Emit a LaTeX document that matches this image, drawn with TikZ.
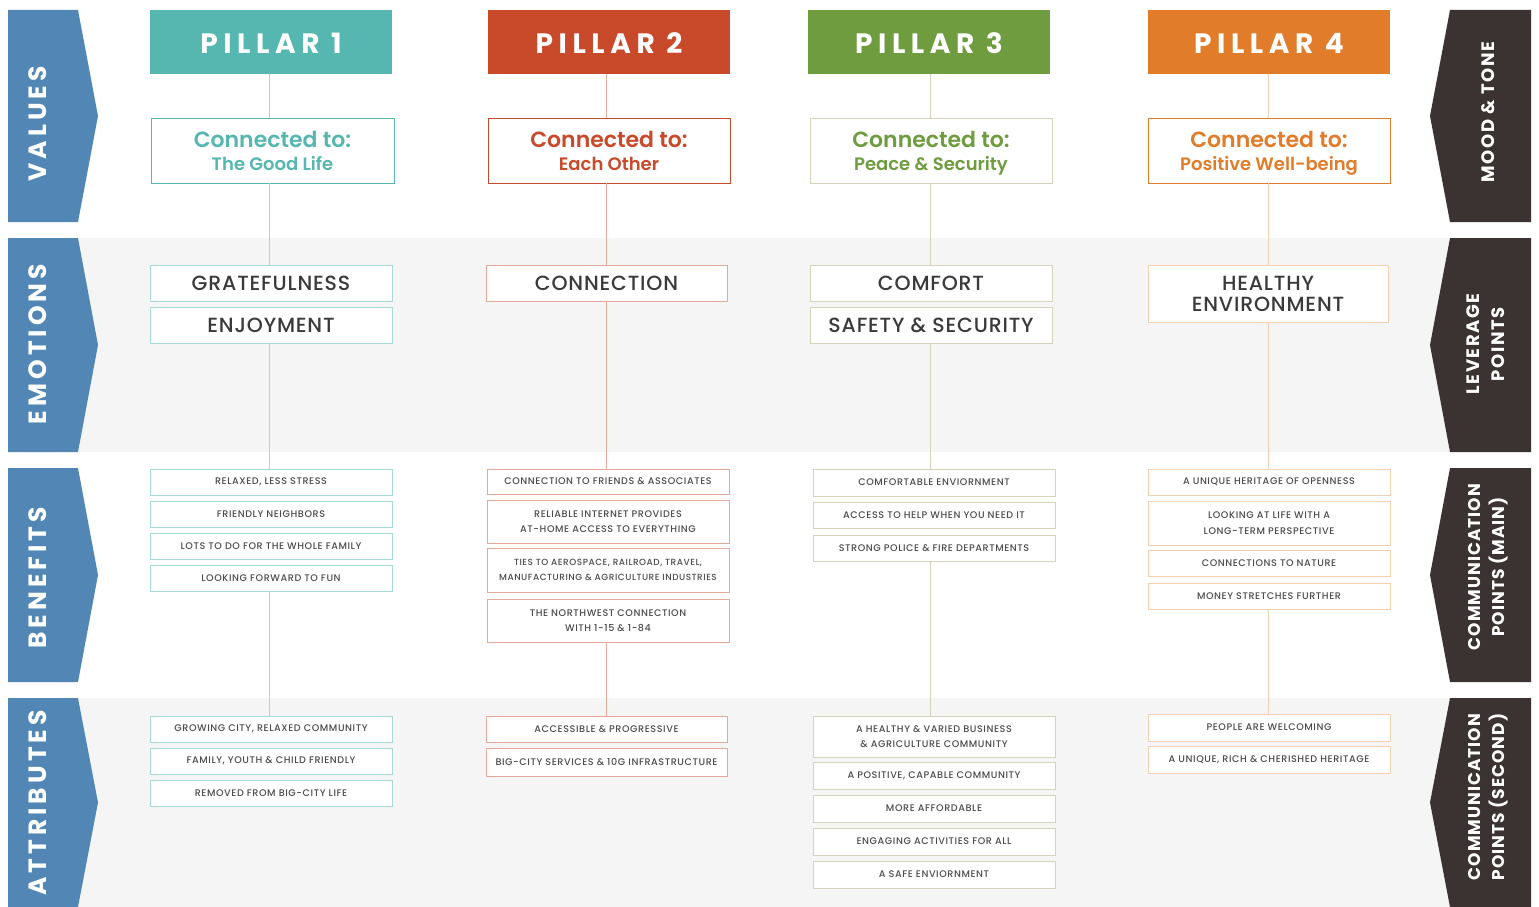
\documentclass[tikz,border=0pt]{standalone}
\usepackage{fontspec}
\setmainfont{Poppins}
\newfontfamily\hdrfont[LetterSpace=20]{Poppins}
\newfontfamily\sidefont[LetterSpace=16]{Poppins}
\newfontfamily\rsidefont[LetterSpace=9]{Poppins}
\newfontfamily\rsidefontb[LetterSpace=6]{Poppins}
\newfontfamily\smallfont[LetterSpace=6]{Poppins Medium}
\newfontfamily\medfont{Poppins Medium}
\newfontfamily\emofont[LetterSpace=4]{Poppins Medium}
\newfontfamily\semifont{Poppins SemiBold}
\definecolor{pA}{HTML}{55B7AF}
\definecolor{pAl}{HTML}{A8DAD5}
\definecolor{pB}{HTML}{C84A2B}
\definecolor{pBl}{HTML}{E3A99B}
\definecolor{pC}{HTML}{6E9C3F}
\definecolor{pCl}{HTML}{D6D3BC}
\definecolor{pD}{HTML}{E17C2A}
\definecolor{pDl}{HTML}{F2D0B0}
\definecolor{sideL}{HTML}{5287B5}
\definecolor{sideR}{HTML}{3A3331}
\definecolor{band}{HTML}{F5F5F6}
\definecolor{txt}{HTML}{3A3A3A}
\definecolor{stxt}{HTML}{4C4C4C}
\newcommand\mybox[7]{\node[#6, minimum width={(#4-#2)*1pt}, minimum height={(#5-#3)*1pt}] (#1) at ({(#2+#4)/2},{(#3+#5)/2}) {#7};}
\tikzset{
  base/.style={inner sep=0pt, outer sep=0pt, align=center},
  hdr/.style={base, fill=#1, text=white, font=\hdrfont\bfseries\fontsize{28}{28}\selectfont},
  conn/.style={base, fill=white, draw=#1, line width=1pt, font=\semifont\fontsize{18}{23}\selectfont},
  emo/.style={base, fill=white, draw=#1, line width=0.8pt, text=txt, font=\emofont\fontsize{20.5}{21}\selectfont},
  sm/.style={base, fill=white, draw=#1, line width=0.7pt, text=stxt, font=\smallfont\fontsize{9.6}{15.5}\selectfont},
  link/.style={draw=#1, line width=0.8pt},
  lside/.style={text=white, rotate=90, font=\sidefont\bfseries\fontsize{25}{25}\selectfont},
  rside/.style={text=white, rotate=90, align=center, font=\rsidefont\bfseries\fontsize{18}{25}\selectfont},
  rsideb/.style={text=white, rotate=90, align=center, font=\rsidefontb\bfseries\fontsize{17}{24}\selectfont},
}
\newcommand\ctd[1]{{\fontsize{22}{23}\selectfont\rule{0pt}{22pt}Connected to:}\\{\fontsize{18}{20}\selectfont #1\vphantom{Tgy}}}
\newcommand\hdrtxt[1]{\rule{0pt}{24pt}#1}
\begin{document}
\begin{tikzpicture}[x=1pt,y=-1pt]
\useasboundingbox (0,0) rectangle (1539,907);
\fill[white] (0,0) rectangle (1539,907);
% bands
\fill[band] (8,238) rectangle (1531,452);
\fill[band] (8,698) rectangle (1531,907);
% left chevrons
\foreach \a/\b in {10/222,238/452,468/682,698/907}{
  \fill[sideL] (8,\a) -- (78,\a) -- (98,{(\a+\b)/2}) -- (78,\b) -- (8,\b) -- cycle;
}
\node[lside] (lv) at (38,124) {VALUES};
\node[lside] (le) at (38,344) {EMOTIONS};
\node[lside] (lb) at (38,578) {BENEFITS};
\node[lside] (la) at (38,803) {ATTRIBUTES};
% right chevrons
\foreach \a/\b in {10/222,238/452,468/682,698/907}{
  \fill[sideR] (1531,\a) -- (1450,\a) -- (1430,{(\a+\b)/2}) -- (1450,\b) -- (1531,\b) -- cycle;
}
\node[rside] (rm) at (1488,112) {MOOD \& TONE};
\node[rside] (rl) at (1486,344) {LEVERAGE\\POINTS};
\node[rsideb] (rc) at (1488,567) {COMMUNICATION\\POINTS (MAIN)};
\node[rsideb] (rs) at (1488,797) {COMMUNICATION\\POINTS (SECOND)};
% line x positions
\coordinate (x1) at (269,0);
\coordinate (x2) at (606,0);
\coordinate (x3) at (930,0);
\coordinate (x4) at (1268,0);
% ---------- Pillar 1
\mybox{h1}{150}{10}{392}{74}{hdr=pA}{\hdrtxt{PILLAR 1}}
\mybox{c1}{151}{118}{394}{183}{conn=pA, text=pA}{\ctd{The Good Life}}
\mybox{e1a}{150}{265}{392}{301}{emo=pAl}{GRATEFULNESS}
\mybox{e1b}{150}{307}{392}{343}{emo=pAl}{ENJOYMENT}
\mybox{b1a}{150}{469}{392}{495}{sm=pAl}{RELAXED, LESS STRESS}
\mybox{b1b}{150}{501}{392}{527}{sm=pAl}{FRIENDLY NEIGHBORS}
\mybox{b1c}{150}{533}{392}{559}{sm=pAl}{LOTS TO DO FOR THE WHOLE FAMILY}
\mybox{b1d}{150}{565}{392}{591}{sm=pAl}{LOOKING FORWARD TO FUN}
\mybox{a1a}{150}{716}{392}{742}{sm=pAl}{GROWING CITY, RELAXED COMMUNITY}
\mybox{a1b}{150}{748}{392}{774}{sm=pAl}{FAMILY, YOUTH \& CHILD FRIENDLY}
\mybox{a1c}{150}{780}{392}{806}{sm=pAl}{REMOVED FROM BIG-CITY LIFE}
\draw[link=pAl] (h1.south -| x1) -- (c1.north -| x1);
\draw[link=pAl] (c1.south -| x1) -- (e1a.north -| x1);
\draw[link=pAl] (e1b.south -| x1) -- (b1a.north -| x1);
\draw[link=pAl] (b1d.south -| x1) -- (a1a.north -| x1);
% ---------- Pillar 2
\mybox{h2}{488}{10}{730}{74}{hdr=pB}{\hdrtxt{PILLAR 2}}
\mybox{c2}{488}{118}{730}{183}{conn=pB, text=pB}{\ctd{Each Other}}
\mybox{e2a}{486}{265}{727}{301}{emo=pBl}{CONNECTION}
\mybox{b2a}{487}{469}{729}{494}{sm=pBl}{CONNECTION TO FRIENDS \& ASSOCIATES}
\mybox{b2b}{487}{500}{729}{543}{sm=pBl}{RELIABLE INTERNET PROVIDES\\AT-HOME ACCESS TO EVERYTHING}
\mybox{b2c}{487}{548}{729}{592}{sm=pBl, font=\smallfont\fontsize{8.9}{15.5}\selectfont}{TIES TO AEROSPACE, RAILROAD, TRAVEL,\\MANUFACTURING \& AGRICULTURE INDUSTRIES}
\mybox{b2d}{487}{599}{729}{642}{sm=pBl}{THE NORTHWEST CONNECTION\\WITH 1-15 \& 1-84}
\mybox{a2a}{486}{716}{727}{742}{sm=pBl}{ACCESSIBLE \& PROGRESSIVE}
\mybox{a2b}{486}{748}{727}{776}{sm=pBl}{BIG-CITY SERVICES \& 10G INFRASTRUCTURE}
\draw[link=pBl] (h2.south -| x2) -- (c2.north -| x2);
\draw[link=pBl] (c2.south -| x2) -- (e2a.north -| x2);
\draw[link=pBl] (e2a.south -| x2) -- (b2a.north -| x2);
\draw[link=pBl] (b2d.south -| x2) -- (a2a.north -| x2);
% ---------- Pillar 3
\mybox{h3}{808}{10}{1050}{74}{hdr=pC}{\hdrtxt{PILLAR 3}}
\mybox{c3}{810}{118}{1052}{183}{conn=pCl, text=pC}{\ctd{Peace \& Security}}
\mybox{e3a}{810}{265}{1052}{301}{emo=pCl}{COMFORT}
\mybox{e3b}{810}{307}{1052}{343}{emo=pCl}{SAFETY \& SECURITY}
\mybox{b3a}{813}{469}{1055}{496}{sm=pCl}{COMFORTABLE ENVIORNMENT}
\mybox{b3b}{813}{502}{1055}{528}{sm=pCl}{ACCESS TO HELP WHEN YOU NEED IT}
\mybox{b3c}{813}{535}{1055}{561}{sm=pCl}{STRONG POLICE \& FIRE DEPARTMENTS}
\mybox{a3a}{813}{716}{1055}{757}{sm=pCl}{A HEALTHY \& VARIED BUSINESS\\\& AGRICULTURE COMMUNITY}
\mybox{a3b}{813}{762}{1055}{789}{sm=pCl}{A POSITIVE, CAPABLE COMMUNITY}
\mybox{a3c}{813}{795}{1055}{822}{sm=pCl}{MORE AFFORDABLE}
\mybox{a3d}{813}{828}{1055}{855}{sm=pCl}{ENGAGING ACTIVITIES FOR ALL}
\mybox{a3e}{813}{861}{1055}{888}{sm=pCl}{A SAFE ENVIORNMENT}
\draw[link=pCl] (h3.south -| x3) -- (c3.north -| x3);
\draw[link=pCl] (c3.south -| x3) -- (e3a.north -| x3);
\draw[link=pCl] (e3b.south -| x3) -- (b3a.north -| x3);
\draw[link=pCl] (b3c.south -| x3) -- (a3a.north -| x3);
% ---------- Pillar 4
\mybox{h4}{1148}{10}{1390}{74}{hdr=pD}{\hdrtxt{PILLAR 4}}
\mybox{c4}{1148}{118}{1390}{183}{conn=pD, text=pD}{\ctd{Positive Well-being}}
\mybox{e4a}{1148}{265}{1388}{322}{emo=pDl}{HEALTHY\\ENVIRONMENT}
\mybox{b4a}{1148}{469}{1390}{495}{sm=pDl}{A UNIQUE HERITAGE OF OPENNESS}
\mybox{b4b}{1148}{501}{1390}{545}{sm=pDl}{LOOKING AT LIFE WITH A\\LONG-TERM PERSPECTIVE}
\mybox{b4c}{1148}{550}{1390}{576}{sm=pDl}{CONNECTIONS TO NATURE}
\mybox{b4d}{1148}{583}{1390}{609}{sm=pDl}{MONEY STRETCHES FURTHER}
\mybox{a4a}{1148}{714}{1390}{741}{sm=pDl}{PEOPLE ARE WELCOMING}
\mybox{a4b}{1148}{746}{1390}{773}{sm=pDl}{A UNIQUE, RICH \& CHERISHED HERITAGE}
\draw[link=pDl] (h4.south -| x4) -- (c4.north -| x4);
\draw[link=pDl] (c4.south -| x4) -- (e4a.north -| x4);
\draw[link=pDl] (e4a.south -| x4) -- (b4a.north -| x4);
\draw[link=pDl] (b4d.south -| x4) -- (a4a.north -| x4);
\end{tikzpicture}
\end{document}
